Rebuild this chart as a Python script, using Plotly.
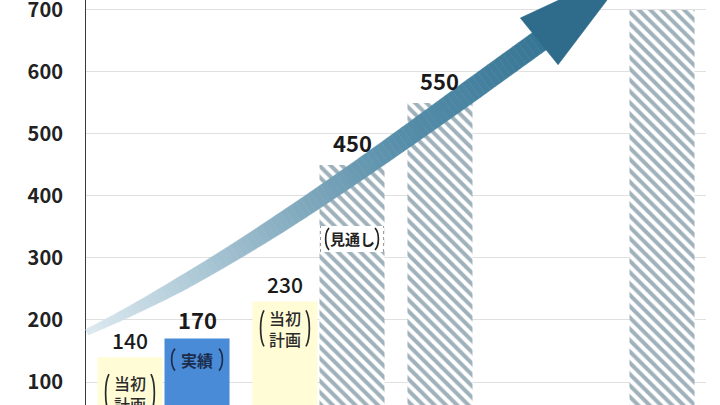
import numpy as np
import plotly.graph_objects as go

# ---------------- data ----------------
categories = ["c1", "c2", "c3", "c4"]
plan_values = [140, 230, None, None]          # 当初計画 (yellow)
actual_values = [170, None, None, None]       # 実績 (blue)
forecast_left = [None, None, 550, None]       # 見通し (hatched, left slot)
forecast_right = [None, 450, None, 700]       # 見通し (hatched, right slot)
tick_values = [100, 200, 300, 400, 500, 600, 700]

# ---------------- geometry / style ----------------
FONT = "Noto Sans CJK JP"
W, H = 720, 405
L, R = 86, 14
PW = W - L - R
Y0, Y1 = 62.9, 716.1
BARGAP, GROUPGAP = 0.135, 0.03
CAT_PX = PW / len(categories)
SHIFT = CAT_PX * (1 - BARGAP) / 4  # offset of slot centres from category centre

YELLOW = "#fffcd6"
BLUE = "#4a8bd8"
HATCH_FG = "#3f6376"


def X(px):
    return (px - L) / PW


def Y(py):
    return 1 - py / H


def py_of(v):
    return H * (1 - (v - Y0) / (Y1 - Y0))


def px_of(i, side):
    return L + (i + 0.5) * CAT_PX + side * SHIFT


hatch = dict(shape="\\", fgcolor=HATCH_FG, bgcolor="white", size=8, solidity=0.5)

fig = go.Figure()
fig.add_trace(go.Bar(x=categories, y=plan_values, offsetgroup="L",
                     marker=dict(color=YELLOW, line=dict(width=0)), hoverinfo="skip"))
fig.add_trace(go.Bar(x=categories, y=forecast_left, offsetgroup="L",
                     marker=dict(color="white", line=dict(width=0), pattern=hatch),
                     hoverinfo="skip"))
fig.add_trace(go.Bar(x=categories, y=actual_values, offsetgroup="R",
                     marker=dict(color=BLUE, line=dict(width=0)), hoverinfo="skip"))
fig.add_trace(go.Bar(x=categories, y=forecast_right, offsetgroup="R",
                     marker=dict(color="white", line=dict(width=0), pattern=hatch),
                     hoverinfo="skip"))

annotations = []
shapes = []

# value labels
series = [
    (plan_values, -1, dict(size=21, weight=500), 17),
    (forecast_left, -1, dict(size=22, weight=700), 23),
    (actual_values, 1, dict(size=22, weight=700), 20),
    (forecast_right, 1, dict(size=22, weight=700), 23),
]
for vals, side, fnt, gap in series:
    for i, v in enumerate(vals):
        if v is None:
            continue
        annotations.append(dict(x=categories[i], y=v, xref="x", yref="y",
                                xshift=side * SHIFT, yshift=gap, yanchor="middle",
                                text=str(v), showarrow=False,
                                font=dict(family=FONT, color="#1a1a1a", **fnt)))


def bracket(xc, top, bot, direction, color="#333333", width=1.7, bulge=4.5):
    # direction -1 = left "(", +1 = right ")"
    h = bot - top
    xe = xc
    xm = xc + direction * bulge
    path = (f"M {X(xe)},{Y(top)} C {X(xm)},{Y(top + 0.22 * h)} "
            f"{X(xm)},{Y(bot - 0.22 * h)} {X(xe)},{Y(bot)}")
    return dict(type="path", xref="paper", yref="paper", path=path,
                line=dict(color=color, width=width), layer="above")


# notes inside bars
notes = [
    (plan_values, 0, -1, "当初<br>計画", 36, 19, 25, dict(size=16, weight=500), "#2a2a2a"),
    (plan_values, 1, -1, "当初<br>計画", 27, 18, 25, dict(size=16, weight=500), "#2a2a2a"),
    (actual_values, 0, 1, "実績", 21, 11, 26, dict(size=16, weight=700), "#1c2d4c"),
    (forecast_right, 1, 1, "見通し", 74, 11, 27, dict(size=15, weight=700), "#222222"),
]
for vals, i, side, text, off, hh, span, fnt, col in notes:
    cx = px_of(i, side)
    cy = py_of(vals[i]) + off
    if text == "見通し":
        bw = CAT_PX * (1 - BARGAP) / 2 * (1 - GROUPGAP) / 2
        shapes.append(dict(type="rect", xref="paper", yref="paper",
                           x0=X(cx - bw), x1=X(cx + bw), y0=Y(cy + 13), y1=Y(cy - 13),
                           fillcolor="white", line=dict(width=0), layer="above"))
        for xx in (cx - bw + 1, cx + bw - 1):
            shapes.append(dict(type="line", xref="paper", yref="paper",
                               x0=X(xx), x1=X(xx), y0=Y(cy + 13), y1=Y(cy - 13),
                               line=dict(color="#9a9a9a", width=1, dash="dot"), layer="above"))
    annotations.append(dict(x=categories[i], y=vals[i], xref="x", yref="y",
                            xshift=side * SHIFT, yshift=-off, yanchor="middle",
                            text=text, showarrow=False,
                            font=dict(family=FONT, color=col, **fnt)))
    shapes.append(bracket(cx - span + 4, cy - hh, cy + hh, -1, color=col))
    shapes.append(bracket(cx + span - 4, cy - hh, cy + hh, 1, color=col))

# ---------------- gradient arrow (decoration) ----------------
ax = np.array([86, 180, 280, 380, 467, 540.0])
ay = np.array([333, 283, 225, 155, 93, 41.0])
aw = np.array([6, 14, 18, 20, 22, 22.0])
coef = np.polyfit(ax, ay, 3)
dcoef = np.polyder(coef)
xs = np.linspace(87, 540, 90)
ys = np.polyval(coef, xs)
sl = np.polyval(dcoef, xs)
tx = 1 / np.sqrt(1 + sl ** 2)
ty = sl * tx
nx, ny = -ty, tx
hw = np.interp(xs, ax, aw) / 2
ux, uy = xs - nx * hw, ys - ny * hw
lx, ly = xs + nx * hw, ys + ny * hw

cstop_x = [86, 200, 300, 400, 480, 540]
cstop_c = np.array([(222, 234, 240), (172, 200, 214), (130, 170, 190),
                    (88, 143, 170), (70, 130, 160), (55, 118, 148)], dtype=float)


def col_at(px):
    return "rgb(%d,%d,%d)" % tuple(np.interp(px, cstop_x, cstop_c[:, k]) for k in range(3))


for i in range(len(xs) - 1):
    c = col_at((xs[i] + xs[i + 1]) / 2)
    path = (f"M {X(ux[i])},{Y(uy[i])} L {X(ux[i+1])},{Y(uy[i+1])} "
            f"L {X(lx[i+1])},{Y(ly[i+1])} L {X(lx[i])},{Y(ly[i])} Z")
    shapes.append(dict(type="path", xref="paper", yref="paper", path=path,
                       fillcolor=c, line=dict(color=c, width=0.6), layer="above"))

bx, by = xs[-1], ys[-1]
hd = np.array([0.78, -0.63])
hd = hd / np.linalg.norm(hd)
dx, dy = hd
hx, hy = -dy, dx
HW_HEAD, HL = 30, 120
p1 = (bx - hx * HW_HEAD - dx, by - hy * HW_HEAD - dy)
p2 = (bx + dx * HL, by + dy * HL)
p3 = (bx + hx * HW_HEAD - dx, by + hy * HW_HEAD - dy)
shapes.append(dict(type="path", xref="paper", yref="paper",
                   path=f"M {X(p1[0])},{Y(p1[1])} L {X(p2[0])},{Y(p2[1])} L {X(p3[0])},{Y(p3[1])} Z",
                   fillcolor="rgb(47,107,138)", line=dict(color="rgb(47,107,138)", width=0.6),
                   layer="above"))

fig.update_layout(
    width=W, height=H,
    margin=dict(l=L, r=R, t=0, b=0, autoexpand=False),
    plot_bgcolor="white", paper_bgcolor="white",
    barmode="group", bargap=BARGAP, bargroupgap=GROUPGAP,
    showlegend=False,
    font=dict(family=FONT, color="#222222"),
    xaxis=dict(type="category", categoryorder="array", categoryarray=categories,
               range=[-0.5, len(categories) - 0.5], showticklabels=False,
               showgrid=False, zeroline=False, showline=False, automargin=False),
    yaxis=dict(range=[Y0, Y1], tickvals=tick_values, showgrid=True,
               gridcolor="#e0e0e0", gridwidth=1, zeroline=False,
               showline=True, linecolor="#3a3a3a", linewidth=1, ticks="",
               ticklabelstandoff=18, automargin=False, ticklabeloverflow="allow",
               tickfont=dict(family=FONT, size=20, weight=700, color="#222222")),
    shapes=shapes,
    annotations=annotations,
)

fig.write_html("out.html", config={"displayModeBar": False},
               post_script="document.body.style.margin='0';document.body.style.padding='0';")
